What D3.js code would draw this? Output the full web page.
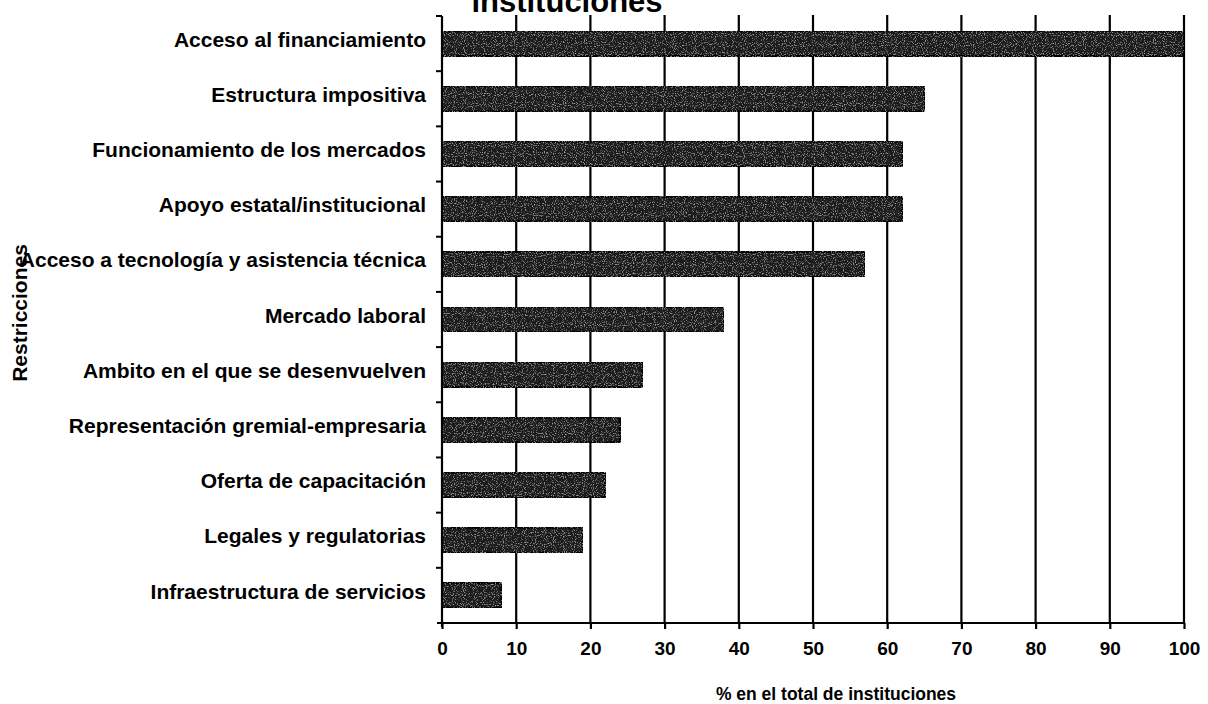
<!DOCTYPE html>
<html>
<head>
<meta charset="utf-8">
<script src="https://cdn.jsdelivr.net/npm/d3@7"></script>
<style>
  body { margin: 0; background: #fff; }
  svg { display: block; font-family: "Liberation Sans", Arial, sans-serif; font-weight: bold; }
</style>
</head>
<body>
<script>
// restricciones, de arriba hacia abajo
var categories = [
	"Acceso al financiamiento",
	"Estructura impositiva",
	"Funcionamiento de los mercados",
	"Apoyo estatal/institucional",
	"Acceso a tecnología y asistencia técnica",
	"Mercado laboral",
	"Ambito en el que se desenvuelven",
	"Representación gremial-empresaria",
	"Oferta de capacitación",
	"Legales y regulatorias",
	"Infraestructura de servicios"
];
var values = [100, 65, 62, 62, 57, 38, 27, 24, 22, 19, 8];
var xTicks = [0, 10, 20, 30, 40, 50, 60, 70, 80, 90, 100];

var width = 1208, height = 704;
var plotLeft = 442, plotRight = 1184, plotTop = 16, plotBottom = 623;

var svg = d3.select("body").append("svg")
	.attr("width", width)
	.attr("height", height);

// grano de la trama de las barras
var defs = svg.append("defs");
var grain = defs.append("filter").attr("id", "grain")
	.attr("x", 0).attr("y", 0).attr("width", 1).attr("height", 1);
grain.append("feTurbulence")
	.attr("type", "fractalNoise")
	.attr("baseFrequency", 0.9)
	.attr("numOctaves", 1)
	.attr("seed", 3)
	.attr("result", "noise");
grain.append("feColorMatrix")
	.attr("in", "noise")
	.attr("type", "matrix")
	.attr("values", "0 0 0 0 0.5  0 0 0 0 0.5  0 0 0 0 0.5  0 0 0 -3 1.35")
	.attr("result", "spots");
grain.append("feComposite")
	.attr("in", "spots").attr("in2", "SourceGraphic")
	.attr("operator", "in").attr("result", "spotsIn");
grain.append("feMerge").selectAll("feMergeNode")
	.data(["SourceGraphic", "spotsIn"]).enter()
	.append("feMergeNode").attr("in", function(d) { return d; });

var x = d3.scaleLinear().domain([0, 100]).range([plotLeft, plotRight]);
var y = d3.scaleBand().domain(categories).range([plotTop, plotBottom])
	.paddingInner(0.55).paddingOuter(0.275);

// titulo (cortado arriba en el original)
svg.append("text")
	.attr("x", 567)
	.attr("y", 12)
	.attr("text-anchor", "middle")
	.style("font-size", "31px")
	.text("instituciones");

// lineas verticales de la grilla
svg.append("g").selectAll("line")
	.data(xTicks.slice(1)).enter()
	.append("line")
	.attr("x1", function(d) { return x(d); })
	.attr("x2", function(d) { return x(d); })
	.attr("y1", plotTop - 1)
	.attr("y2", plotBottom)
	.attr("stroke", "#000")
	.attr("stroke-width", 2.2);

// barras
svg.append("g").selectAll("rect")
	.data(values).enter()
	.append("rect")
	.attr("x", x(0))
	.attr("y", function(d, i) { return y(categories[i]); })
	.attr("width", function(d) { return x(d) - x(0); })
	.attr("height", y.bandwidth())
	.attr("fill", "#1c1c1c")
	.attr("stroke", "#000")
	.attr("stroke-width", 2)
	.attr("rx", 1.5)
	.attr("filter", "url(#grain)");

// eje y
var yAxis = svg.append("g")
	.attr("transform", "translate(" + plotLeft + ",0)")
	.call(d3.axisLeft(y).tickSize(0).tickPadding(16));
yAxis.select(".domain").remove();
yAxis.selectAll("text")
	.attr("dy", "0.15em")
	.style("font-size", "21px")
	.attr("fill", "#000");
svg.append("line")
	.attr("x1", plotLeft).attr("x2", plotLeft)
	.attr("y1", plotTop).attr("y2", plotBottom + 4)
	.attr("stroke", "#000").attr("stroke-width", 2.2);
var bounds = categories.map(function(c) { return y(c) - y.step() * y.paddingInner() / 2; });
svg.append("g").selectAll("line")
	.data(bounds).enter()
	.append("line")
	.attr("x1", plotLeft - 6).attr("x2", plotLeft)
	.attr("y1", function(d) { return d; })
	.attr("y2", function(d) { return d; })
	.attr("stroke", "#000").attr("stroke-width", 2);

// eje x
var xAxis = svg.append("g")
	.attr("transform", "translate(0," + plotBottom + ")")
	.call(d3.axisBottom(x).tickValues(xTicks).tickSize(6).tickPadding(13));
xAxis.select(".domain").remove();
xAxis.selectAll(".tick line").attr("stroke-width", 2.2);
xAxis.selectAll("text")
	.style("font-size", "19px")
	.attr("fill", "#000");
svg.append("line")
	.attr("x1", plotLeft - 5).attr("x2", plotRight + 1)
	.attr("y1", plotBottom).attr("y2", plotBottom)
	.attr("stroke", "#000").attr("stroke-width", 2.2);

// titulos de ejes
svg.append("text")
	.attr("x", 836)
	.attr("y", 700)
	.attr("text-anchor", "middle")
	.style("font-size", "17.5px")
	.text("% en el total de instituciones");

svg.append("text")
	.attr("transform", "translate(27,313) rotate(-90)")
	.attr("text-anchor", "middle")
	.style("font-size", "21px")
	.text("Restricciones");
</script>
</body>
</html>
